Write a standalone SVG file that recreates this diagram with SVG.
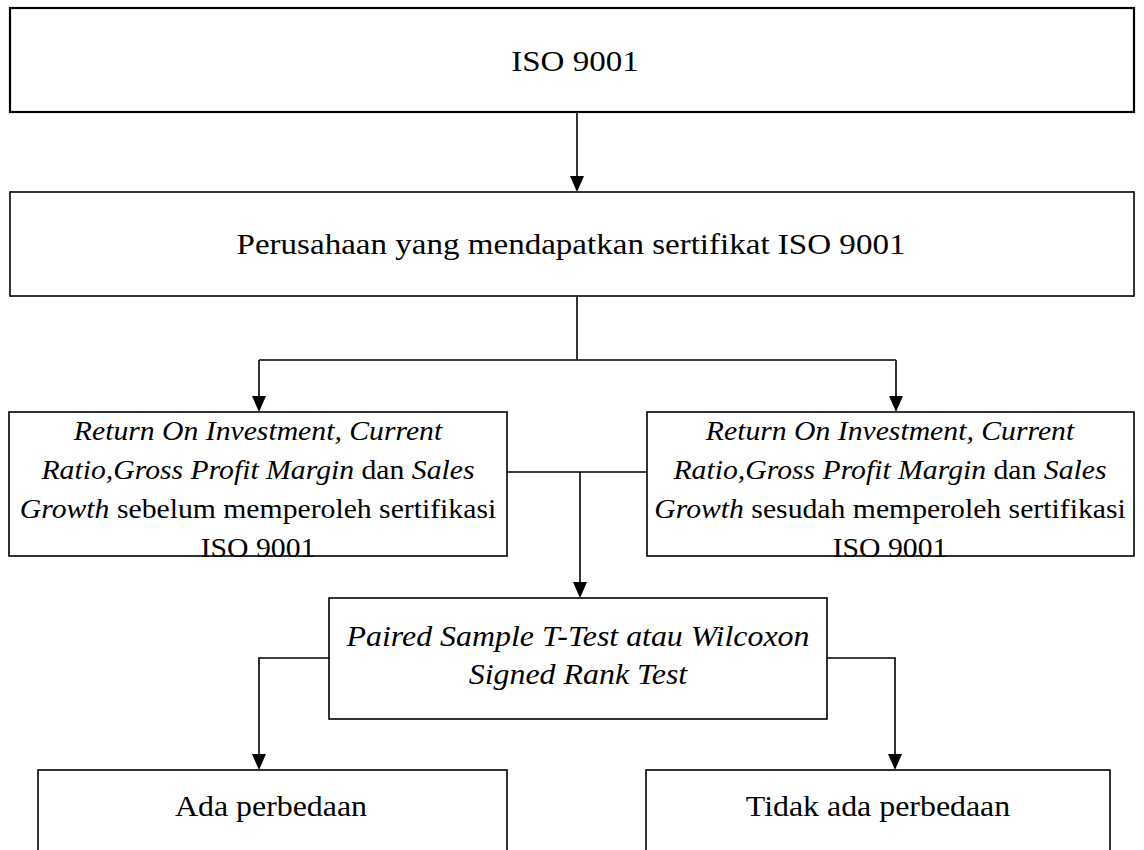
<svg xmlns="http://www.w3.org/2000/svg" width="1144" height="850" viewBox="0 0 1144 850">
<style>
.box{fill:#fff;stroke:#000;stroke-width:1.6}
.top{stroke-width:2.2}
.t{font-family:"Liberation Serif","Times New Roman",serif;fill:#000;text-anchor:middle}
.n{font-size:29px}
.s{font-size:27px}
.i{font-style:italic}
.c{fill:none;stroke:#000;stroke-width:1.6}
</style>
<rect width="1144" height="850" fill="#fff"/>
<g id="connectors">
<line class="c" x1="577" y1="112" x2="577" y2="190"/>
<path d="M570,176 L584,176 L577,192 Z"/>
<line class="c" x1="577" y1="296" x2="577" y2="360"/>
<line class="c" x1="259" y1="360" x2="896" y2="360"/>
<line class="c" x1="259" y1="360" x2="259" y2="410"/>
<path d="M252,396 L266,396 L259,412 Z"/>
<line class="c" x1="896" y1="360" x2="896" y2="410"/>
<path d="M889,396 L903,396 L896,412 Z"/>
<line class="c" x1="507" y1="472" x2="647" y2="472"/>
<line class="c" x1="580" y1="472" x2="580" y2="596"/>
<path d="M573,582 L587,582 L580,598 Z"/>
<polyline class="c" points="329,658 259,658 259,768"/>
<path d="M252,754 L266,754 L259,770 Z"/>
<polyline class="c" points="827,658 895,658 895,768"/>
<path d="M888,754 L902,754 L895,770 Z"/>
</g>
<g id="iso">
<rect class="box top" x="10" y="8" width="1124" height="104"/>
<text class="t n" transform="translate(575,71) scale(1.14,1)">ISO 9001</text>
</g>
<g id="perusahaan">
<rect class="box" x="10" y="192" width="1124" height="104"/>
<text class="t n" transform="translate(571,254) scale(1.14,1)">Perusahaan yang mendapatkan sertifikat ISO 9001</text>
</g>
<g id="sebelum">
<rect class="box" x="9" y="412" width="498" height="144"/>
<text class="t s" transform="translate(258,440) scale(1.1,1)"><tspan class="i">Return On Investment, Current</tspan></text>
<text class="t s" transform="translate(258,479) scale(1.1,1)"><tspan class="i">Ratio,Gross Profit Margin</tspan> dan <tspan class="i">Sales</tspan></text>
<text class="t s" transform="translate(258,518) scale(1.1,1)"><tspan class="i">Growth</tspan> sebelum memperoleh sertifikasi</text>
<text class="t s" transform="translate(258,557) scale(1.1,1)">ISO 9001</text>
</g>
<g id="sesudah">
<rect class="box" x="647" y="412" width="487" height="144"/>
<text class="t s" transform="translate(890,440) scale(1.1,1)"><tspan class="i">Return On Investment, Current</tspan></text>
<text class="t s" transform="translate(890,479) scale(1.1,1)"><tspan class="i">Ratio,Gross Profit Margin</tspan> dan <tspan class="i">Sales</tspan></text>
<text class="t s" transform="translate(890,518) scale(1.1,1)"><tspan class="i">Growth</tspan> sesudah memperoleh sertifikasi</text>
<text class="t s" transform="translate(890,557) scale(1.1,1)">ISO 9001</text>
</g>
<g id="test">
<rect class="box" x="329" y="598" width="498" height="121"/>
<text class="t n i" transform="translate(578,646) scale(1.1,1)">Paired Sample T-Test atau Wilcoxon</text>
<text class="t n i" transform="translate(578,684) scale(1.1,1)">Signed Rank Test</text>
</g>
<g id="ada">
<rect class="box" x="38" y="770" width="469" height="100"/>
<text class="t n" transform="translate(271,816) scale(1.1,1)">Ada perbedaan</text>
</g>
<g id="tidak">
<rect class="box" x="646" y="770" width="464" height="100"/>
<text class="t n" transform="translate(878,816) scale(1.1,1)">Tidak ada perbedaan</text>
</g>
</svg>
